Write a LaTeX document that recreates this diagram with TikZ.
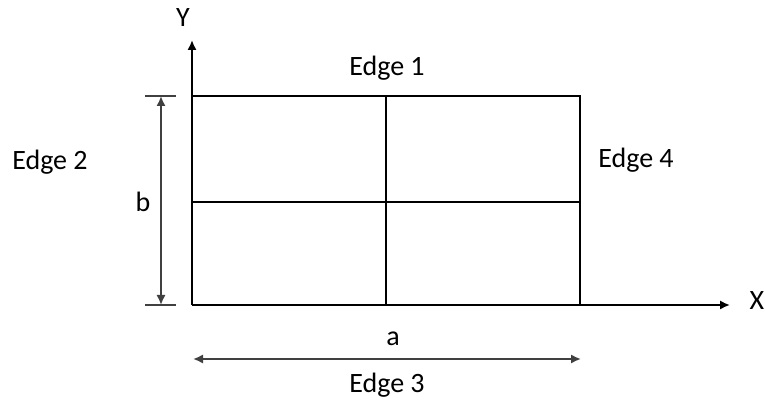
\documentclass[tikz,border=0pt]{standalone}
\usepackage{fontspec}
\setmainfont{Carlito}
\usetikzlibrary{arrows.meta}
\begin{document}
\begin{tikzpicture}[x=0.75pt,y=-0.75pt,
  edge/.style={line width=1.7pt,black},
  dim/.style={line width=1.6pt,draw=black!75},
  tip/.style={-{Latex[length=7.5pt,width=7pt]}},
  lbl/.style={font=\fontsize{21}{24}\selectfont,inner sep=0pt}]
\useasboundingbox (0,0) rectangle (765,402);
\coordinate (O) at (192,305);
\coordinate (A) at (580,96);
\coordinate (TL) at (192,96);
\coordinate (BR) at (580,305);
\coordinate (MT) at (386,96);
\coordinate (MB) at (386,305);
\coordinate (ML) at (192,202);
\coordinate (MR) at (580,202);
\coordinate (Ytip) at (192,40);
\coordinate (Xtip) at (730,305);
% grid
\draw[edge] (TL) -- (A) -- (BR);
\draw[edge] (MT) -- (MB);
\draw[edge] (ML) -- (MR);
% axes
\draw[edge,tip] (O) -- (Ytip);
\draw[edge,tip] (O) -- (Xtip);
\node[lbl] (Y) at (183,18) {Y};
\node[lbl] (X) at (757,301) {X};
% dimension b
\coordinate (bt1) at (145,96);
\coordinate (bt2) at (176,96);
\coordinate (bb1) at (145,305);
\coordinate (bb2) at (176,305);
\coordinate (bT) at (161,96);
\coordinate (bB) at (161,305);
\draw[dim] (bt1) -- (bt2);
\draw[dim] (bb1) -- (bb2);
\draw[dim,{Latex[length=7.5pt,width=7pt]}-{Latex[length=7.5pt,width=7pt]}] (bT) -- (bB);
\node[lbl] (b) at (143,202) {b};
% dimension a
\coordinate (aL) at (193,359);
\coordinate (aR) at (581,359);
\draw[dim,{Latex[length=7.5pt,width=7pt]}-{Latex[length=7.5pt,width=7pt]}] (aL) -- (aR);
\node[lbl] (a) at (393,339) {a};
% edge labels
\node[lbl] (e1) at (387,68) {Edge 1};
\node[lbl] (e2) at (50,162) {Edge 2};
\node[lbl] (e3) at (387,385) {Edge 3};
\node[lbl] (e4) at (636,160) {Edge 4};
\end{tikzpicture}
\end{document}
